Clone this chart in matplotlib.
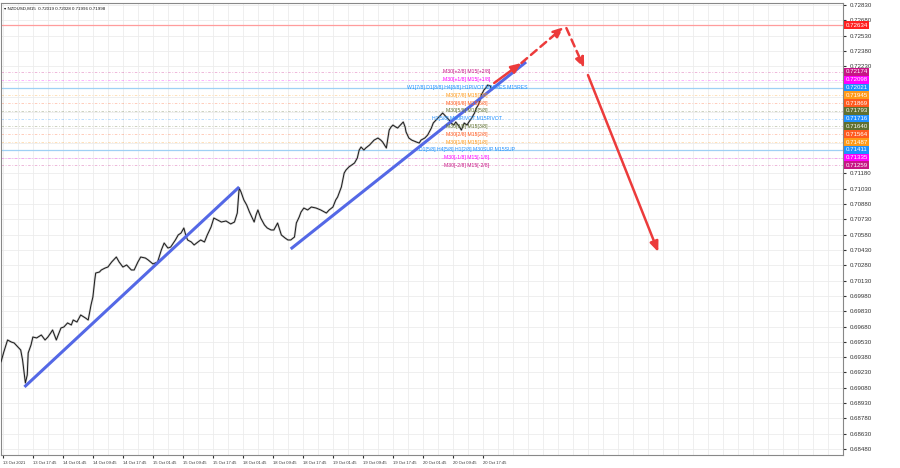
import matplotlib.pyplot as plt
import matplotlib.transforms as mtransforms

plt.rcParams['font.family'] = ['Liberation Sans', 'DejaVu Sans']

# price path (bar index, close)
bars = [0, 3, 7, 11, 14, 18, 21, 23, 26, 28, 29, 32, 34, 38, 43, 47, 50, 53, 55, 59,
        61, 64, 67, 71, 75, 77, 81, 85, 90, 93, 96, 98, 100, 101, 105, 107, 111, 114, 118, 123,
        126, 130, 134, 139, 142, 146, 149, 154, 157, 162, 167, 171, 174, 178, 181, 186, 189, 192, 195, 197,
        199, 203, 206, 210, 213, 217, 220, 224, 227, 231, 235, 240, 245, 249, 252, 254, 256, 259, 262, 265,
        268, 270, 272, 274, 277, 281, 284, 288, 291, 295, 299, 303, 306, 309, 313, 315, 318, 320, 323, 327,
        331, 336, 341, 347, 350, 354, 357, 359, 363, 366, 368, 371, 374, 377, 380, 382, 384, 387, 389, 393,
        395, 398, 402, 405, 407, 411, 414, 416, 418, 421, 423, 427, 429, 431, 432, 435, 438, 443, 446, 448,
        452, 455, 459, 461, 464, 466, 469, 471, 475, 478, 480, 483, 485, 489, 491, 494, 497, 499, 502, 505,
        507, 509, 511, 512, 514, 515, 517, 519, 522, 523]
closes = [0.69333, 0.69431, 0.69548, 0.69528, 0.69519, 0.69479, 0.69450, 0.69352, 0.69127, 0.69205,
          0.69421, 0.69499, 0.69577, 0.69568, 0.69597, 0.69548, 0.69577, 0.69617, 0.69646, 0.69548,
          0.69597, 0.69666, 0.69675, 0.69715, 0.69695, 0.69744, 0.69724, 0.69793, 0.69764, 0.69744,
          0.69891, 0.69969, 0.70136, 0.70204, 0.70214, 0.70234, 0.70253, 0.70263, 0.70312, 0.70361,
          0.70312, 0.70263, 0.70283, 0.70234, 0.70234, 0.70312, 0.70361, 0.70351, 0.70332, 0.70293,
          0.70312, 0.70430, 0.70498, 0.70449, 0.70459, 0.70528, 0.70577, 0.70596, 0.70645, 0.70577,
          0.70528, 0.70508, 0.70479, 0.70508, 0.70528, 0.70508, 0.70577, 0.70655, 0.70743, 0.70724,
          0.70704, 0.70714, 0.70685, 0.70704, 0.70792, 0.71037, 0.70998, 0.70920, 0.70871, 0.70802,
          0.70743, 0.70704, 0.70773, 0.70822, 0.70743, 0.70675, 0.70645, 0.70626, 0.70626, 0.70694,
          0.70577, 0.70547, 0.70528, 0.70528, 0.70557, 0.70694, 0.70753, 0.70802, 0.70841, 0.70822,
          0.70851, 0.70841, 0.70822, 0.70792, 0.70822, 0.70851, 0.70920, 0.70949, 0.71047, 0.71184,
          0.71214, 0.71243, 0.71263, 0.71282, 0.71331, 0.71409, 0.71439, 0.71409, 0.71429, 0.71458,
          0.71478, 0.71507, 0.71527, 0.71507, 0.71488, 0.71429, 0.71605, 0.71635, 0.71654, 0.71635,
          0.71625, 0.71664, 0.71684, 0.71635, 0.71586, 0.71527, 0.71507, 0.71488, 0.71478, 0.71507,
          0.71527, 0.71556, 0.71625, 0.71674, 0.71703, 0.71723, 0.71752, 0.71772, 0.71733, 0.71703,
          0.71674, 0.71654, 0.71684, 0.71635, 0.71605, 0.71674, 0.71654, 0.71684, 0.71723, 0.71772,
          0.71821, 0.71850, 0.71899, 0.71948, 0.71978, 0.71997, 0.72017, 0.72046, 0.72037, 0.71998]

# trend lines (bar, price)
trend1_x = [25, 254]
trend1_y = [0.69088, 0.71047]
trend2_x = [309, 560]
trend2_y = [0.70440, 0.72272]

# forecast arrows: (x0, y0, x1, y1, dashed)
arrows = [
    (526, 0.72066, 555, 0.72262, False),
    (555, 0.72262, 600, 0.72614, True),
    (603, 0.72604, 622, 0.72213, True),
    (626, 0.72144, 701, 0.70410, False),
]

resistance = 0.72634

# Murrey levels
levels = [0.72174, 0.72098, 0.72021, 0.71945, 0.71869, 0.71793, 0.71716,
          0.71640, 0.71564, 0.71487, 0.71411, 0.71335, 0.71259]
level_names = ["M30[+2/8] M15[+2/8]", "M30[+1/8] M15[+1/8]",
               "W1[7/8] D1[8/8] H4[8/8] H1PIVOT M30RES M15RES",
               "M30[7/8] M15[7/8]", "M30[6/8] M15[6/8]", "M30[5/8] M15[5/8]",
               "H1[5/8] M30PIVOT M15PIVOT",
               "M30[3/8] M15[3/8]", "M30[2/8] M15[2/8]", "M30[1/8] M15[1/8]",
               "D1[5/8] H4[5/8] H1[2/8] M30SUP M15SUP",
               "M30[-1/8] M15[-1/8]", "M30[-2/8] M15[-2/8]"]
level_colors = ["#c71585", "#ff00ff", "#1e90ff", "#ff9a1a", "#ff5a1f", "#5f7030", "#1e90ff",
                "#5f7030", "#ff5a1f", "#ff9a1a", "#1e90ff", "#ff00ff", "#c71585"]
level_solid = [False, False, True, False, False, False, False,
               False, False, False, True, False, False]

y_ticks = [0.68480, 0.68630, 0.68780, 0.68930, 0.69080, 0.69230, 0.69380, 0.69530,
           0.69680, 0.69830, 0.69980, 0.70130, 0.70280, 0.70430, 0.70580, 0.70730,
           0.70880, 0.71030, 0.71180, 0.71330, 0.71480, 0.71630, 0.71780, 0.71930,
           0.72080, 0.72230, 0.72380, 0.72530, 0.72680, 0.72830]
x_ticks = [2, 34, 66, 98, 130, 162, 194, 226, 258, 290, 322, 354, 386, 418, 450, 482, 514]
x_labels = ["13 Oct 2021", "13 Oct 17:45", "14 Oct 01:45", "14 Oct 09:45", "14 Oct 17:45",
            "15 Oct 01:45", "15 Oct 09:45", "15 Oct 17:45", "18 Oct 01:45", "18 Oct 09:45",
            "18 Oct 17:45", "19 Oct 01:45", "19 Oct 09:45", "19 Oct 17:45", "20 Oct 01:45",
            "20 Oct 09:45", "20 Oct 17:45"]

fig = plt.figure(figsize=(9, 4.68), dpi=100)
ax = fig.add_axes([1 / 900, 13 / 468, 842 / 900, 452 / 468])
ax.set_xlim(0, 898)
ax.set_ylim(0.68421, 0.72850)

# grid
for t in y_ticks:
    ax.axhline(t, color="#ececec", lw=0.6, zorder=0)
for gx in range(2, 898, 16):
    ax.axvline(gx, color="#ececec", lw=0.6, zorder=0)

# levels
for lv, name, c, solid in zip(levels, level_names, level_colors, level_solid):
    if solid:
        ax.axhline(lv, color="#9fd0f5", lw=0.9, zorder=1)
    else:
        ax.axhline(lv, color=c, lw=0.6, ls=(0, (3, 2, 1, 2)), alpha=0.35, zorder=1)
    ax.text(497, lv, name, color=c, fontsize=3.7, ha="center", va="center", zorder=5)

ax.axhline(resistance, color="#ff9c9c", lw=0.9, zorder=1)

# price
ax.plot(bars, closes, color="#a0a0a0", lw=1.6, alpha=0.5, zorder=2)
ax.plot(bars, closes, color="#1a1a1a", lw=0.7, zorder=3)

# trend lines
ax.plot(trend1_x, trend1_y, color="#5468e6", lw=2.2, solid_capstyle="butt", zorder=4)
ax.plot(trend2_x, trend2_y, color="#5468e6", lw=2.2, solid_capstyle="butt", zorder=4)

for x0, y0, x1, y1, dashed in arrows:
    ax.annotate("", xy=(x1, y1), xytext=(x0, y0),
                arrowprops=dict(arrowstyle="-|>,head_length=0.6,head_width=0.25",
                                color="#ec3b3b", lw=1.8,
                                ls=(0, (3, 2)) if dashed else "-",
                                shrinkA=0, shrinkB=0), zorder=6)

# right axis
ax.yaxis.tick_right()
ax.set_yticks(y_ticks)
ax.set_yticklabels(["" if 0.7125 < t < 0.7220 else f"{t:.5f}" for t in y_ticks])
ax.tick_params(axis="y", labelsize=4.4, length=2, pad=3, colors="#333333")
ax.set_xticks(x_ticks)
ax.set_xticklabels(x_labels, ha="left")
ax.tick_params(axis="x", labelsize=3.0, length=2, pad=2, colors="#333333")
for s in ax.spines.values():
    s.set_color("#888888")
    s.set_linewidth(0.8)

trans = mtransforms.blended_transform_factory(ax.transAxes, ax.transData)
for lv, c in zip(levels, level_colors):
    ax.text(1.003, lv, f"{lv:.5f}", transform=trans, color="white", fontsize=4.4,
            ha="left", va="center", clip_on=False, zorder=7,
            bbox=dict(boxstyle="square,pad=0.25", fc=c, ec="none"))
ax.text(1.003, resistance, f"{resistance:.5f}", transform=trans, color="white", fontsize=4.4,
        ha="left", va="center", clip_on=False, zorder=7,
        bbox=dict(boxstyle="square,pad=0.25", fc="#ff2020", ec="none"))

ax.text(0.004, 0.993, "\u25BE NZDUSD,M15  0.72019 0.72028 0.71996 0.71998",
        transform=ax.transAxes, fontsize=3.2, va="top", ha="left", color="#111111")

fig.savefig("out.png", dpi=100)
